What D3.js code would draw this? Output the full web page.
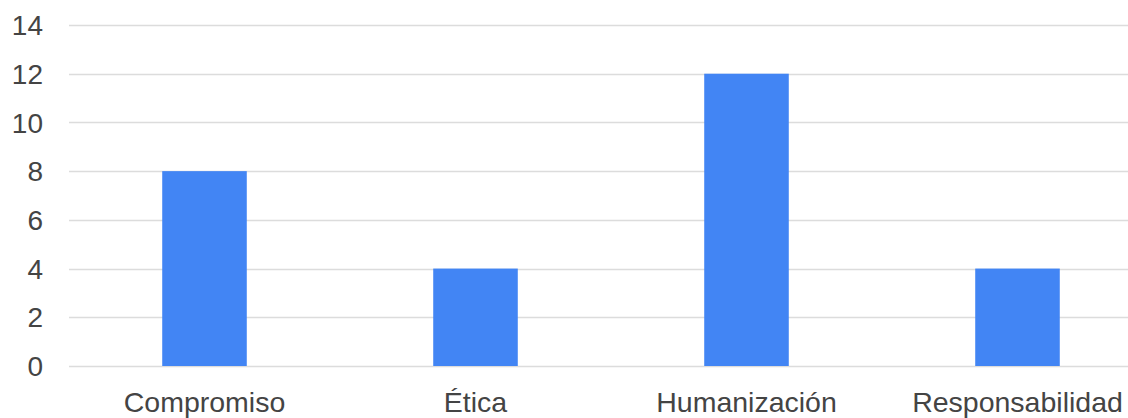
<!DOCTYPE html>
<html>
<head>
<meta charset="utf-8">
<script src="https://cdn.jsdelivr.net/npm/d3@7"></script>
<style>
  body { margin: 0; background: #fff; }
  svg { display: block; }
  text { font-family: "Liberation Sans", Arial, sans-serif; fill: #444; }
</style>
</head>
<body>
<div id="chart"></div>
<script>
// categorie e valori
const categories = ["Compromiso", "Ética", "Humanización", "Responsabilidad"];
const values = [8, 4, 12, 4];
const yTicks = [0, 2, 4, 6, 8, 10, 12, 14];

const width = 1128, height = 418;

const svg = d3.select("#chart").append("svg")
    .attr("width", width)
    .attr("height", height);

const x = d3.scaleBand()
    .domain(categories)
    .range([69, 1153])
    .paddingInner(0.688)
    .paddingOuter(0.344);

const y = d3.scaleLinear()
    .domain([0, 14])
    .range([366, 25]);

// griglia orizzontale
svg.append("g")
    .selectAll("line")
    .data(yTicks)
    .enter().append("line")
    .attr("x1", 69)
    .attr("x2", width)
    .attr("y1", d => Math.round(y(d)) + 0.5)
    .attr("y2", d => Math.round(y(d)) + 0.5)
    .attr("stroke", "#dcdcdc")
    .attr("stroke-width", 1.5);

// etichette asse y
svg.append("g")
    .selectAll("text")
    .data(yTicks)
    .enter().append("text")
    .attr("x", 43)
    .attr("y", d => y(d))
    .attr("dy", "0.36em")
    .attr("text-anchor", "end")
    .attr("font-size", "28px")
    .text(d => d);

// barre
svg.append("g")
    .selectAll("rect")
    .data(categories)
    .enter().append("rect")
    .attr("x", d => x(d))
    .attr("width", x.bandwidth())
    .attr("y", (d, i) => y(values[i]))
    .attr("height", (d, i) => y(0) - y(values[i]))
    .attr("fill", "#4285f4");

// etichette categorie
svg.append("g")
    .selectAll("text")
    .data(categories)
    .enter().append("text")
    .attr("x", d => x(d) + x.bandwidth() / 2)
    .attr("y", 412)
    .attr("text-anchor", "middle")
    .attr("font-size", "28.5px")
    .text(d => d);
</script>
</body>
</html>
